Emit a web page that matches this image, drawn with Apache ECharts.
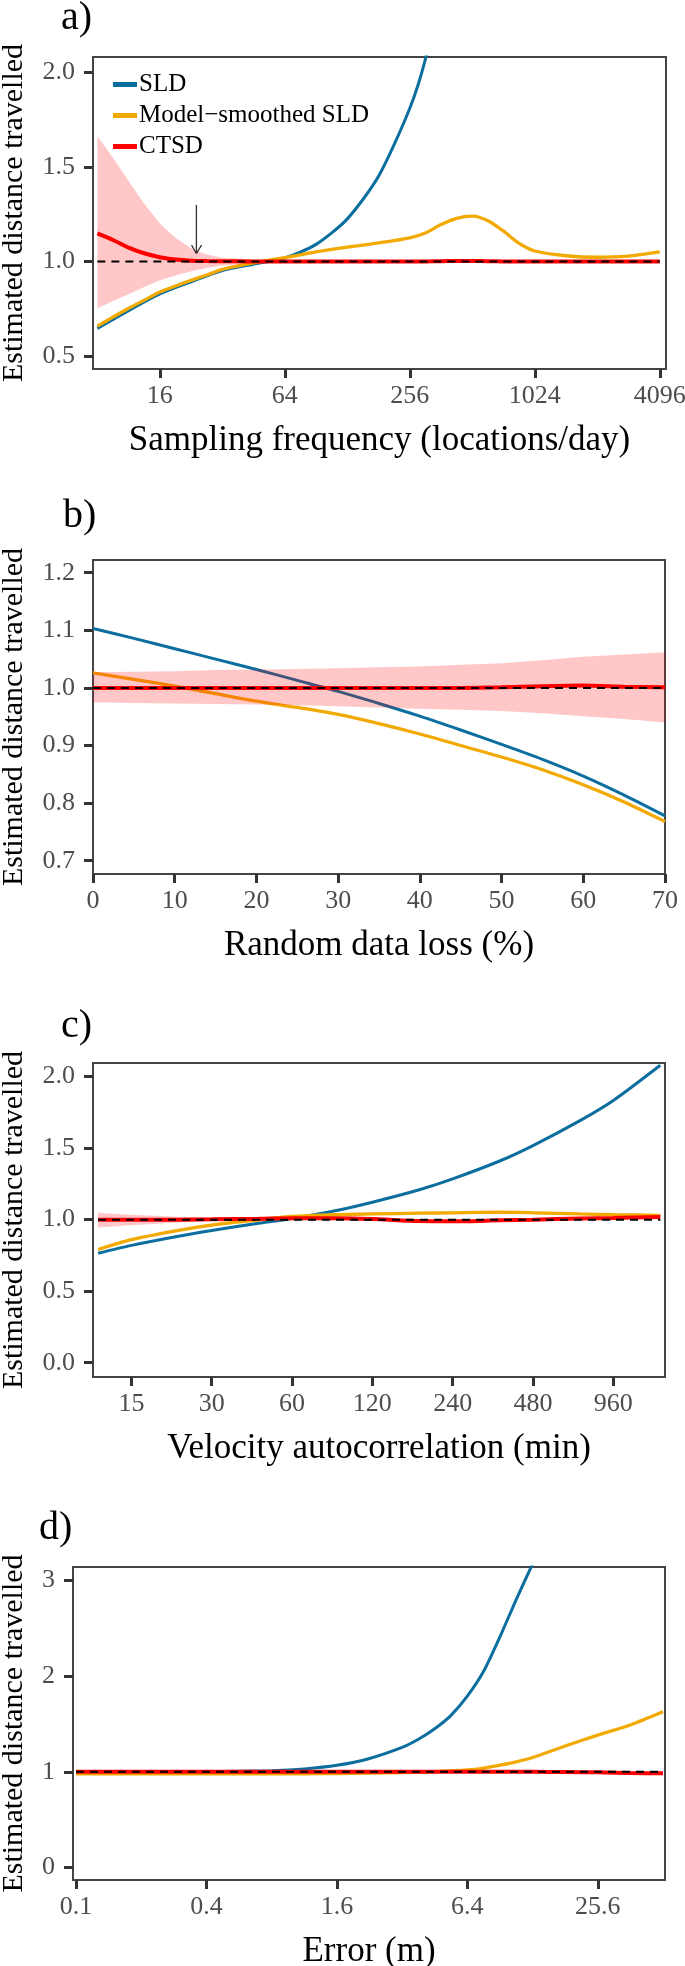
<!DOCTYPE html>
<html>
<head>
<meta charset="utf-8">
<script src="https://cdn.jsdelivr.net/npm/echarts@6/dist/echarts.min.js"></script>
<style>
html,body{margin:0;padding:0;background:#fff;}
#chart{width:685px;height:1966px;}
</style>
</head>
<body>
<div id="chart"></div>
<script>
// ---------------- Panel a: sampling frequency (locations/day) ----------------
const aSLDFreq = [8, 11.31, 16, 22.63, 32, 45.25, 64, 90.51, 128, 181, 256, 304.4, 362];
const aSLD     = [0.646, 0.74, 0.828, 0.892, 0.952, 0.985, 1.018, 1.09, 1.225, 1.45, 1.81, 2.07, 2.45];
const aFreq = [8, 9.51, 11.31, 13.45, 16, 19.03, 22.63, 26.91, 32, 45.25, 64, 90.51, 128, 181, 256, 304.4, 362, 430.5, 512, 608.9, 724.1, 861.1, 1024, 1448, 2048, 2896, 4096];
const aMS   = [0.658, 0.705, 0.752, 0.795, 0.838, 0.87, 0.9, 0.928, 0.958, 0.992, 1.02, 1.05, 1.075, 1.098, 1.125, 1.15, 1.195, 1.228, 1.239, 1.215, 1.16, 1.095, 1.055, 1.03, 1.022, 1.028, 1.05];
const aCTSD = [1.148, 1.113, 1.073, 1.043, 1.022, 1.01, 1.004, 1.002, 1.001, 1.0, 1.0, 1.0, 1.0, 1.0, 1.0, 1.0, 1.001, 1.002, 1.002, 1.001, 1.0, 1.0, 1.0, 1.0, 1.0, 1.0, 1.0];
const aHi   = [1.662, 1.548, 1.425, 1.305, 1.2, 1.125, 1.068, 1.036, 1.02, 1.01, 1.006, 1.005, 1.004, 1.003, 1.003, 1.003, 1.004, 1.005, 1.005, 1.004, 1.003, 1.003, 1.003, 1.003, 1.003, 1.003, 1.003];
const aLo   = [0.752, 0.79, 0.826, 0.865, 0.9, 0.925, 0.948, 0.965, 0.978, 0.99, 0.994, 0.996, 0.997, 0.997, 0.997, 0.997, 0.998, 0.999, 0.999, 0.998, 0.997, 0.997, 0.997, 0.997, 0.997, 0.997, 0.997];
const aRefX = [8, 4096];
const aRefY = [1, 1];
const aArrowX = [24, 24];
const aArrowY = [1.298, 1.042];
const aArrowHeadX = [22.74, 24, 25.4];
const aArrowHeadY = [1.086, 1.042, 1.086];
const aXTicks = [16, 64, 256, 1024, 4096];
const aYTicks = [0.5, 1.0, 1.5, 2.0];

// ---------------- Panel b: random data loss (%) ----------------
const bLoss = [0, 5, 10, 15, 20, 25, 30, 35, 40, 45, 50, 55, 60, 65, 70];
const bSLD  = [1.103, 1.086, 1.068, 1.05, 1.032, 1.013, 0.994, 0.973, 0.951, 0.927, 0.902, 0.876, 0.847, 0.814, 0.778];
const bMS   = [1.026, 1.015, 1.003, 0.99, 0.977, 0.966, 0.954, 0.938, 0.92, 0.9, 0.88, 0.858, 0.832, 0.802, 0.768];
const bCTSD = [1.0, 1.0, 1.0, 1.0, 1.0, 1.0, 1.0, 1.0, 1.0, 1.0, 1.001, 1.003, 1.004, 1.002, 1.001];
const bHi   = [1.027, 1.028, 1.029, 1.031, 1.032, 1.033, 1.034, 1.036, 1.037, 1.04, 1.043, 1.048, 1.054, 1.058, 1.062];
const bLo   = [0.975, 0.974, 0.973, 0.972, 0.971, 0.97, 0.968, 0.966, 0.964, 0.962, 0.96, 0.956, 0.951, 0.946, 0.94];
const bRefX = [0, 70];
const bRefY = [1, 1];
const bXTicks = [0, 10, 20, 30, 40, 50, 60, 70];
const bYTicks = [0.7, 0.8, 0.9, 1.0, 1.1, 1.2];

// ---------------- Panel c: velocity autocorrelation (min) ----------------
const cTau  = [11.25, 15, 22.5, 30, 45, 60, 90, 120, 180, 240, 360, 480, 720, 960, 1440];
const cSLD  = [0.765, 0.82, 0.884, 0.924, 0.975, 1.008, 1.068, 1.122, 1.209, 1.285, 1.41, 1.518, 1.692, 1.833, 2.079];
const cMS   = [0.791, 0.86, 0.925, 0.962, 0.998, 1.022, 1.035, 1.04, 1.045, 1.048, 1.052, 1.048, 1.04, 1.035, 1.03];
const cCTSD = [1.0, 1.0, 1.0, 1.002, 1.006, 1.01, 1.01, 1.004, 0.99, 0.988, 0.995, 1.0, 1.008, 1.012, 1.018];
const cHi   = [1.048, 1.035, 1.02, 1.013, 1.013, 1.016, 1.016, 1.01, 0.996, 0.994, 1.001, 1.006, 1.014, 1.019, 1.026];
const cLo   = [0.945, 0.96, 0.98, 0.99, 0.996, 1.003, 1.004, 0.998, 0.984, 0.982, 0.989, 0.994, 1.002, 1.005, 1.01];
const cRefX = [11.25, 1440];
const cRefY = [1, 1];
const cXTicks = [15, 30, 60, 120, 240, 480, 960];
const cYTicks = [0, 0.5, 1.0, 1.5, 2.0];

// ---------------- Panel d: error (m) ----------------
const dSLDErr = [0.1, 0.2, 0.4, 0.8, 1.131, 1.6, 2.263, 3.2, 3.805, 4.525, 5.382, 6.4, 7.61, 9.05, 10.76, 12.8];
const dSLD    = [1.0, 1.0, 1.001, 1.012, 1.03, 1.068, 1.14, 1.255, 1.34, 1.45, 1.59, 1.79, 2.05, 2.41, 2.8, 3.17];
const dErr  = [0.1, 0.2, 0.4, 0.8, 1.131, 1.6, 2.263, 3.2, 4.525, 6.4, 7.61, 9.05, 10.76, 12.8, 18.1, 25.6, 36.2, 51.2];
const dMS   = [0.978, 0.978, 0.978, 0.979, 0.98, 0.982, 0.986, 0.993, 1.003, 1.02, 1.04, 1.07, 1.105, 1.15, 1.27, 1.384, 1.49, 1.627];
const dCTSD = [1.0, 1.0, 1.0, 1.0, 1.0, 1.0, 1.0, 1.0, 1.0, 1.0, 1.0, 1.0, 1.0, 1.0, 0.998, 0.995, 0.988, 0.985];
const dHi   = [1.012, 1.012, 1.012, 1.012, 1.012, 1.012, 1.012, 1.012, 1.012, 1.012, 1.012, 1.012, 1.012, 1.012, 1.01, 1.008, 1.001, 0.998];
const dLo   = [0.988, 0.988, 0.988, 0.988, 0.988, 0.988, 0.988, 0.988, 0.988, 0.988, 0.988, 0.988, 0.988, 0.988, 0.986, 0.982, 0.975, 0.972];
const dRefX = [0.1, 51.2];
const dRefY = [1, 1];
const dXTicks = [0.1, 0.4, 1.6, 6.4, 25.6];
const dYTicks = [0, 1, 2, 3];

// ---------------- styling ----------------
const FONT = 'Liberation Serif';
const BLUE = '#0b6e9f';
const ORANGE = '#f2a900';
const RED = '#ff0000';
const BANDCOL = 'rgba(255,0,0,0.22)';
const TICKCOL = '#4d4d4d';
const LEG_SLD = 'SLD';
const LEG_MS = 'Model\u2212smoothed SLD';
const LEG_CTSD = 'CTSD';

function pts(xs, ys, logx) {
  return xs.map((x, i) => [logx ? Math.log2(x) : x, ys[i]]);
}

const grids = [
  {left: 93, top: 57, width: 573, height: 312},
  {left: 93, top: 560, width: 572, height: 314},
  {left: 93, top: 1063, width: 572, height: 314},
  {left: 73, top: 1567, width: 592, height: 313}
].map(g => Object.assign(g, {
  show: true, borderColor: '#444', borderWidth: 2, backgroundColor: 'transparent',
  containLabel: false, outerBoundsMode: 'none'
}));

function xAxisCfg(idx, name, ticks, logx, min, max) {
  const vals = logx ? ticks.map(t => Math.log2(t)) : ticks;
  return {
    type: 'value', gridIndex: idx, min: min, max: max,
    name: name, nameLocation: 'middle', nameGap: 54,
    nameTextStyle: {fontFamily: FONT, fontSize: 35, color: '#000'},
    axisLine: {show: false, onZero: false},
    splitLine: {show: false},
    axisTick: {show: true, length: 9, customValues: vals, lineStyle: {color: '#333', width: 3}},
    axisLabel: {
      show: true, customValues: vals, margin: 14,
      fontFamily: FONT, fontSize: 26, color: TICKCOL,
      formatter: function (v) {
        if (!logx) return String(v);
        const t = ticks.find(tt => Math.abs(Math.log2(tt) - v) < 1e-6);
        return t == null ? '' : String(t);
      }
    }
  };
}
// main y axis: ticks + title
function yAxisMain(idx, ticks, min, max, gap) {
  return {
    type: 'value', gridIndex: idx, min: min, max: max, position: 'left',
    name: 'Estimated distance travelled', nameLocation: 'middle', nameGap: gap, nameRotate: 90,
    nameMoveOverlap: false,
    nameTextStyle: {fontFamily: FONT, fontSize: 30, color: '#000'},
    axisLine: {show: false, onZero: false},
    splitLine: {show: false},
    axisTick: {show: true, length: 9, customValues: ticks, lineStyle: {color: '#333', width: 3}},
    axisLabel: {show: false}
  };
}
// companion y axis: tick labels only, set back from the frame
function yAxisLabels(idx, ticks, min, max, dec) {
  return {
    type: 'value', gridIndex: idx, min: min, max: max, position: 'left', offset: 10,
    axisLine: {show: false, onZero: false},
    splitLine: {show: false},
    axisTick: {show: false},
    axisLabel: {
      show: true, customValues: ticks, margin: 8,
      fontFamily: FONT, fontSize: 26, color: TICKCOL,
      formatter: v => v.toFixed(dec)
    }
  };
}

function bandSeries(idx, xs, lo, hi, logx) {
  const data = xs.map((x, i) => [logx ? Math.log2(x) : x, lo[i], hi[i]]);
  return {
    type: 'custom', coordinateSystem: 'cartesian2d', xAxisIndex: idx, yAxisIndex: 2 * idx,
    name: 'band' + idx, silent: true, z: 3, animation: false,
    encode: {x: 0, y: [1, 2]},
    data: data,
    renderItem: function (params, api) {
      if (params.dataIndex !== 0) return null;
      const upper = data.map(d => api.coord([d[0], d[2]]));
      const lower = data.slice().reverse().map(d => api.coord([d[0], d[1]]));
      return {type: 'polygon', shape: {points: upper.concat(lower)}, style: {fill: BANDCOL}};
    }
  };
}

function panelSeries(idx, logx, p) {
  const common = {xAxisIndex: idx, yAxisIndex: 2 * idx, type: 'line', symbol: 'none', animation: false};
  return [
    Object.assign({}, common, {name: LEG_SLD, data: pts(p.sldX, p.sld, logx), smooth: 0.25,
      lineStyle: {color: BLUE, width: 3}, itemStyle: {color: BLUE}, z: 2}),
    Object.assign({}, common, {name: LEG_MS, data: pts(p.x, p.ms, logx), smooth: 0.25,
      lineStyle: {color: ORANGE, width: 3.3}, itemStyle: {color: ORANGE}, z: 2}),
    bandSeries(idx, p.x, p.lo, p.hi, logx),
    Object.assign({}, common, {name: LEG_CTSD, data: pts(p.x, p.ctsd, logx), smooth: 0.25,
      lineStyle: {color: RED, width: 4}, itemStyle: {color: RED}, z: 4}),
    Object.assign({}, common, {name: 'ref' + idx, data: pts(p.refX, p.refY, logx),
      lineStyle: {color: '#000', width: 2, type: [8, 6]}, silent: true, z: 5})
  ];
}

const series = [].concat(
  panelSeries(0, true, {sldX: aSLDFreq, sld: aSLD, x: aFreq, ms: aMS, ctsd: aCTSD, hi: aHi, lo: aLo, refX: aRefX, refY: aRefY}),
  panelSeries(1, false, {sldX: bLoss, sld: bSLD, x: bLoss, ms: bMS, ctsd: bCTSD, hi: bHi, lo: bLo, refX: bRefX, refY: bRefY}),
  panelSeries(2, true, {sldX: cTau, sld: cSLD, x: cTau, ms: cMS, ctsd: cCTSD, hi: cHi, lo: cLo, refX: cRefX, refY: cRefY}),
  panelSeries(3, true, {sldX: dSLDErr, sld: dSLD, x: dErr, ms: dMS, ctsd: dCTSD, hi: dHi, lo: dLo, refX: dRefX, refY: dRefY}),
  [
    {type: 'line', xAxisIndex: 0, yAxisIndex: 0, name: 'arrow', data: pts(aArrowX, aArrowY, true), symbol: 'none',
      lineStyle: {color: '#333', width: 1.3}, silent: true, z: 6, animation: false},
    {type: 'line', xAxisIndex: 0, yAxisIndex: 0, name: 'arrowhead', data: pts(aArrowHeadX, aArrowHeadY, true), symbol: 'none',
      lineStyle: {color: '#333', width: 1.3}, silent: true, z: 6, animation: false}
  ]
);

const labelStyle = {fontFamily: FONT, fontSize: 40, fontWeight: 'normal', color: '#000'};
const option = {
  animation: false,
  backgroundColor: '#fff',
  textStyle: {fontFamily: FONT},
  title: [
    {text: 'a)', left: 61, top: -2, padding: 0, textStyle: labelStyle},
    {text: 'b)', left: 63, top: 496, padding: 0, textStyle: labelStyle},
    {text: 'c)', left: 61, top: 1006, padding: 0, textStyle: labelStyle},
    {text: 'd)', left: 39, top: 1508, padding: 0, textStyle: labelStyle}
  ],
  legend: {
    data: [LEG_SLD, LEG_MS, LEG_CTSD],
    orient: 'vertical', left: 113, top: 72, padding: 0,
    icon: 'rect', itemWidth: 24, itemHeight: 5, itemGap: 6,
    textStyle: {fontFamily: FONT, fontSize: 25, color: '#000', lineHeight: 24, padding: [0, 0, 0, -3]},
    selectedMode: false
  },
  grid: grids,
  xAxis: [
    xAxisCfg(0, 'Sampling frequency (locations/day)', aXTicks, true, 2.93, 12.1),
    xAxisCfg(1, 'Random data loss (%)', bXTicks, false, 0, 70),
    xAxisCfg(2, 'Velocity autocorrelation (min)', cXTicks, true, 3.429, 10.55),
    xAxisCfg(3, 'Error (m)', dXTicks, true, -3.368, 5.709)
  ],
  yAxis: [
    yAxisMain(0, aYTicks, 0.431, 2.081, 64), yAxisLabels(0, aYTicks, 0.431, 2.081, 1),
    yAxisMain(1, bYTicks, 0.677, 1.222, 64), yAxisLabels(1, bYTicks, 0.677, 1.222, 1),
    yAxisMain(2, cYTicks, -0.1, 2.095, 64), yAxisLabels(2, cYTicks, -0.1, 2.095, 1),
    yAxisMain(3, dYTicks, -0.13, 3.14, 44), yAxisLabels(3, dYTicks, -0.13, 3.14, 0)
  ],
  series: series
};

const chart = echarts.init(document.getElementById('chart'), null, {renderer: 'canvas'});
chart.setOption(option);
</script>
</body>
</html>
